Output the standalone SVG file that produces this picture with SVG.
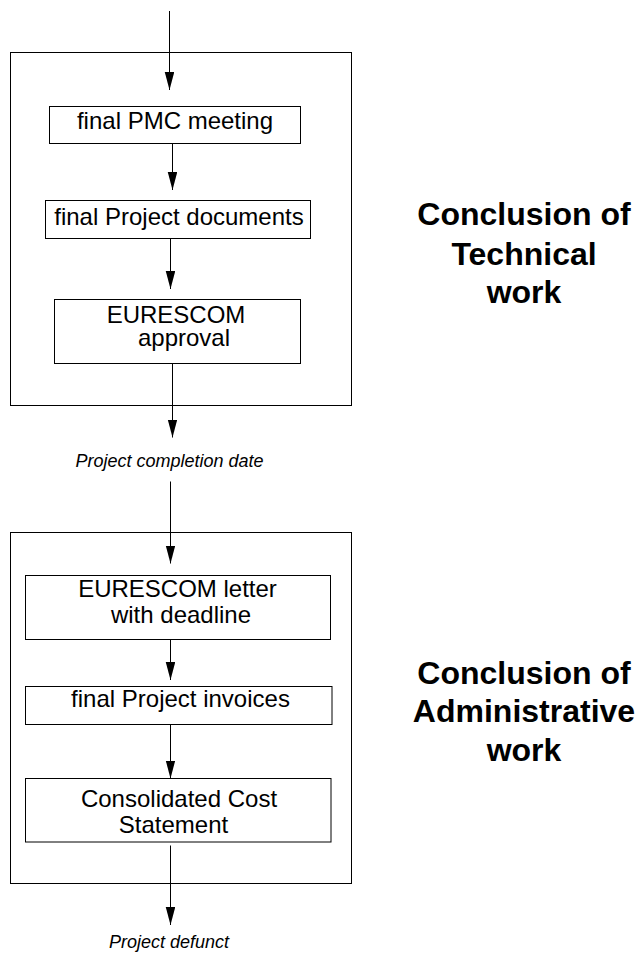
<svg xmlns="http://www.w3.org/2000/svg" width="635" height="961" viewBox="0 0 635 961">
<style>
.box{fill:none;stroke:#000;stroke-width:1}
.frame{fill:none;stroke:#000;stroke-width:1}
.t{font-family:"Liberation Sans",Arial,sans-serif;font-size:24px;fill:#000;text-anchor:middle}
.i{font-family:"Liberation Sans",Arial,sans-serif;font-size:18px;font-style:italic;fill:#000;text-anchor:middle}
.b{font-family:"Liberation Sans",Arial,sans-serif;font-size:32px;font-weight:bold;fill:#000;text-anchor:middle}
.c line{stroke:#000;stroke-width:1;marker-end:url(#ah)}
</style>
<defs>
<marker id="ah" markerUnits="userSpaceOnUse" markerWidth="19" markerHeight="10" refX="18" refY="4.75" orient="auto">
<path d="M0,0 L18,4.75 L0,9.5 Z" fill="#000"/>
</marker>
</defs>
<g id="frame-technical"><rect class="frame" x="10.5" y="52.5" width="341" height="353"/></g>
<g id="frame-admin"><rect class="frame" x="10.5" y="532.5" width="341" height="351"/></g>
<g id="n-pmc"><rect class="box" x="49.5" y="106.5" width="251" height="37"/><text class="t" x="175" y="129">final PMC meeting</text></g>
<g id="n-docs"><rect class="box" x="45.5" y="200.5" width="265" height="38"/><text class="t" x="179" y="225">final Project documents</text></g>
<g id="n-approval"><rect class="box" x="54.5" y="299.5" width="246" height="64"/><text class="t" x="176" y="323">EURESCOM</text><text class="t" x="184" y="346">approval</text></g>
<g id="n-letter"><rect class="box" x="25.5" y="575.5" width="305" height="64"/><text class="t" x="177.5" y="597">EURESCOM letter</text><text class="t" x="181" y="623">with deadline</text></g>
<g id="n-invoices"><rect class="box" x="25.5" y="686.5" width="306.5" height="38"/><text class="t" x="180.5" y="707">final Project invoices</text></g>
<g id="n-ccs"><rect class="box" x="25.5" y="778.5" width="305.5" height="63.5"/><text class="t" x="179" y="806.5">Consolidated Cost</text><text class="t" x="173.5" y="832.5">Statement</text></g>
<g id="l-completion"><text class="i" x="169.5" y="466.5">Project completion date</text></g>
<g id="l-defunct"><text class="i" x="169" y="948">Project defunct</text></g>
<g id="l-technical"><text class="b" x="524" y="225">Conclusion of</text><text class="b" x="524" y="264.5">Technical</text><text class="b" x="524" y="302.5">work</text></g>
<g id="l-admin"><text class="b" x="524" y="683.5">Conclusion of</text><text class="b" x="524" y="721.5">Administrative</text><text class="b" x="524" y="760.5">work</text></g>
<g id="connectors" class="c">
<line x1="169.5" y1="11" x2="169.5" y2="90"/>
<line x1="172.5" y1="143.5" x2="172.5" y2="190"/>
<line x1="170.5" y1="238.5" x2="170.5" y2="289"/>
<line x1="172.5" y1="363.5" x2="172.5" y2="437.5"/>
<line x1="170.5" y1="481.5" x2="170.5" y2="563.5"/>
<line x1="170.5" y1="639.5" x2="170.5" y2="680"/>
<line x1="170.5" y1="724.5" x2="170.5" y2="778.5"/>
<line x1="170.5" y1="845.5" x2="170.5" y2="925"/>
</g>
</svg>
